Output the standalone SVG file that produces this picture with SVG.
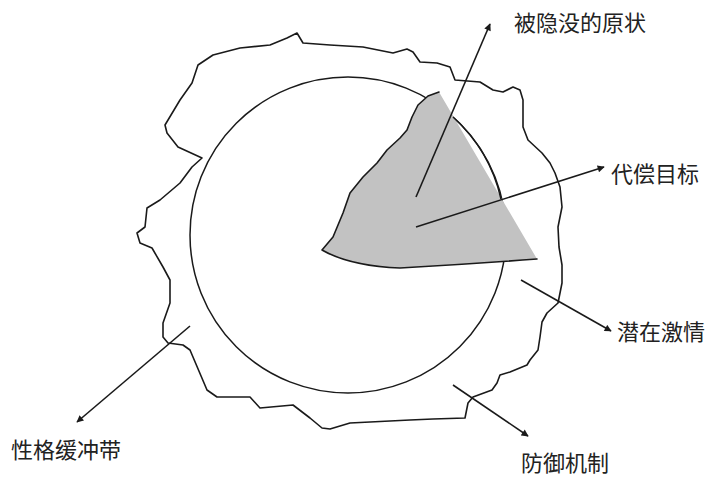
<svg xmlns="http://www.w3.org/2000/svg" width="709" height="478" viewBox="0 0 709 478">
<style>
.line{fill:none;stroke:#1a1a1a;stroke-width:1.6;stroke-linejoin:round;stroke-linecap:round}
.circ{fill:none;stroke:#1a1a1a;stroke-width:1.5}
.wedge{fill:#c2c2c2;stroke:none}
.conn{fill:none;stroke:#1a1a1a;stroke-width:1.6}
.lbl{font-family:"Noto Sans CJK SC","Noto Sans",sans-serif;font-size:22px;fill:#222}
</style>
<defs>
<marker id="arr" viewBox="0 0 10 10" refX="9" refY="5" markerWidth="8" markerHeight="7" orient="auto" markerUnits="userSpaceOnUse">
<path d="M0,0 L10,5 L0,10 z" fill="#1a1a1a"/>
</marker>
</defs>
<rect width="709" height="478" fill="#fff"/>
<g id="buffer">
<path class="line" d="M198,65 L213,55 L240,48 L270,45 L287,38 L297,33 L303,43 L330,45 L363,47 L393,53 L407,49 L413,52 L420,62 L437,63 L450,67 L455,80 L480,82 L493,90 L503,92 L513,87 L520,90 L523,100 L523,127 L528,140 L542,153 L550,163 L555,173 L560,187 L562,207 L558,227 L559,247 L562,265 L562,283 L558,303 L547,313 L542,322 L540,337 L538,350 L530,360 L527,365 L510,372 L500,375 L497,383 L492,390 L473,397 L468,403 L465,418 L433,419 L410,420 L350,423 L330,429 L322,428 L310,418 L293,405 L260,408 L250,397 L217,397 L207,390 L190,350 L183,345 L168,343 L163,337 L163,323 L170,303 L170,280 L163,267 L152,248 L140,243 L137,233 L145,227 L147,208 L160,200 L180,183 L192,167 L202,158 L178,147 L167,133 L165,125 L180,100 L192,83 Z"/>
</g>
<g id="circle">
<circle class="circ" cx="348" cy="235" r="158"/>
</g>
<g id="wedge">
<path class="wedge" d="M322,250 L333,237 L343,213 L350,193 L363,177 L377,163 L387,150 L400,138 L407,130 L412,117 L418,105 L428,96 L439,92 L537,259 Q470,264 400,268 Q350,266 322,250 Z"/>
<path class="line" d="M537,259 Q470,264 400,268 Q350,266 322,250 L333,237 L343,213 L350,193 L363,177 L377,163 L387,150 L400,138 L407,130 L412,117 L418,105 L428,96 L439,92"/>
<path class="circ" d="M453,117 A158,158 0 0 1 501,199"/>
</g>
<g id="connectors">
<line class="conn" x1="416" y1="197" x2="490" y2="24" marker-end="url(#arr)"/>
<line class="conn" x1="416" y1="227" x2="604" y2="167" marker-end="url(#arr)"/>
<line class="conn" x1="521" y1="280" x2="611" y2="331" marker-end="url(#arr)"/>
<line class="conn" x1="453" y1="385" x2="528" y2="436" marker-end="url(#arr)"/>
<line class="conn" x1="190" y1="326" x2="77" y2="422" marker-end="url(#arr)"/>
</g>
<g id="label-original"><text class="lbl" x="514" y="31">被隐没的原状</text></g>
<g id="label-compensation"><text class="lbl" x="611" y="182">代偿目标</text></g>
<g id="label-passion"><text class="lbl" x="617" y="340">潜在激情</text></g>
<g id="label-defense"><text class="lbl" x="521" y="471">防御机制</text></g>
<g id="label-buffer"><text class="lbl" x="11" y="458">性格缓冲带</text></g>
</svg>
